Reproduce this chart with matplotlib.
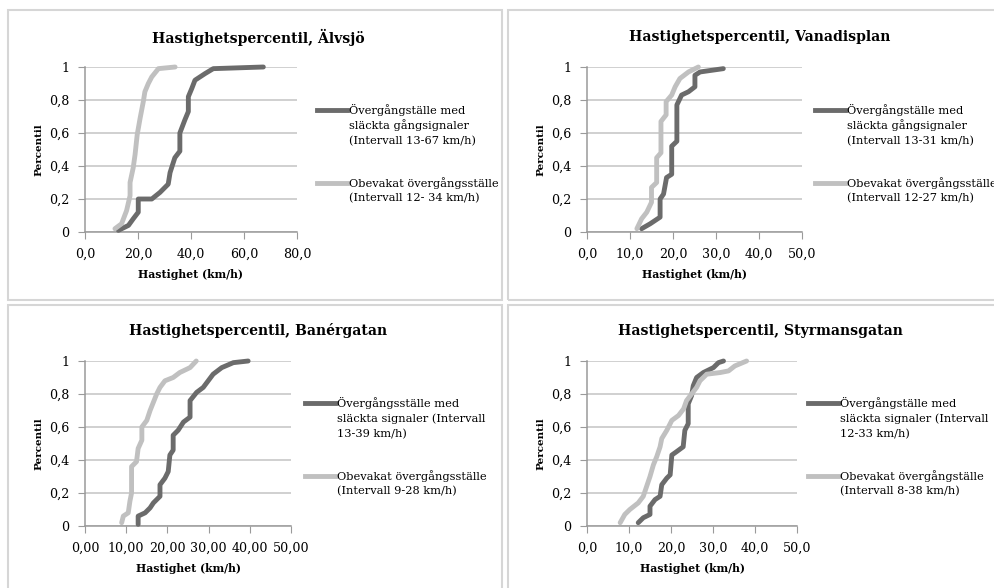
import numpy as np
import matplotlib.pyplot as plt
from matplotlib.lines import Line2D
from matplotlib.patches import Rectangle

plt.rcParams['font.family'] = ['DejaVu Serif']

W, H = 995, 588

# --- data (speed km/h, percentile) ---
alvsjo_dark_v = [12.6, 16.4, 18.2, 20.1, 20.1, 25.2, 28.3, 31.4, 32.1, 33.9, 35.8, 35.8, 37.7, 39.0, 39.0, 40.3, 41.5, 45.3, 48.4, 67.3]
alvsjo_dark_p = [0.01, 0.04, 0.08, 0.12, 0.20, 0.20, 0.24, 0.29, 0.36, 0.45, 0.49, 0.60, 0.68, 0.73, 0.82, 0.87, 0.92, 0.96, 0.99, 1.00]
alvsjo_light_v = [11.3, 13.8, 15.7, 17.0, 17.0, 18.2, 18.9, 19.7, 20.8, 22.0, 22.6, 23.9, 25.2, 27.7, 34.0]
alvsjo_light_p = [0.02, 0.05, 0.13, 0.22, 0.30, 0.39, 0.47, 0.59, 0.69, 0.79, 0.85, 0.90, 0.94, 0.99, 1.00]

vanadis_dark_v = [12.7, 14.7, 17.0, 17.0, 17.8, 18.5, 19.7, 19.7, 20.9, 20.9, 22.0, 23.6, 25.1, 25.1, 26.3, 31.7]
vanadis_dark_p = [0.02, 0.05, 0.09, 0.20, 0.23, 0.33, 0.35, 0.52, 0.55, 0.77, 0.83, 0.85, 0.88, 0.95, 0.97, 0.99]
vanadis_light_v = [11.6, 12.7, 13.9, 15.0, 15.0, 16.2, 16.2, 17.2, 17.2, 18.4, 18.4, 19.7, 20.5, 21.6, 23.6, 25.9]
vanadis_light_p = [0.02, 0.08, 0.12, 0.18, 0.27, 0.30, 0.45, 0.48, 0.67, 0.71, 0.79, 0.83, 0.88, 0.93, 0.97, 1.00]

baner_dark_v = [12.9, 12.9, 14.6, 15.8, 16.6, 18.2, 18.2, 19.4, 20.2, 20.6, 21.4, 21.4, 22.6, 23.9, 25.5, 25.5, 27.1, 28.7, 29.9, 31.1, 33.2, 36.0, 39.6]
baner_dark_p = [0.01, 0.06, 0.08, 0.11, 0.14, 0.18, 0.25, 0.29, 0.33, 0.43, 0.46, 0.55, 0.58, 0.63, 0.66, 0.76, 0.81, 0.84, 0.88, 0.92, 0.96, 0.99, 1.00]
baner_light_v = [8.9, 9.3, 10.5, 10.9, 11.3, 11.3, 12.5, 12.9, 13.8, 13.8, 15.0, 15.8, 16.6, 17.4, 18.2, 19.4, 21.4, 23.0, 25.5, 27.0]
baner_light_p = [0.02, 0.06, 0.08, 0.15, 0.20, 0.36, 0.39, 0.47, 0.52, 0.60, 0.64, 0.70, 0.75, 0.80, 0.84, 0.88, 0.90, 0.93, 0.96, 1.00]

styr_dark_v = [12.2, 13.4, 15.0, 15.0, 16.2, 17.4, 17.8, 19.0, 19.8, 20.2, 21.3, 22.9, 23.3, 24.1, 24.1, 24.9, 25.3, 26.1, 27.7, 30.1, 31.3, 32.5]
styr_dark_p = [0.02, 0.05, 0.07, 0.12, 0.16, 0.18, 0.25, 0.29, 0.31, 0.43, 0.45, 0.48, 0.58, 0.62, 0.74, 0.79, 0.85, 0.90, 0.93, 0.96, 0.99, 1.00]
styr_light_v = [7.9, 9.0, 10.2, 12.2, 13.4, 14.2, 15.0, 15.8, 16.6, 17.4, 17.8, 19.0, 20.2, 21.8, 23.0, 23.7, 24.9, 26.1, 26.9, 28.5, 31.7, 33.7, 35.2, 38.0]
styr_light_p = [0.02, 0.07, 0.10, 0.14, 0.18, 0.24, 0.30, 0.37, 0.42, 0.48, 0.53, 0.58, 0.64, 0.67, 0.71, 0.76, 0.80, 0.84, 0.88, 0.92, 0.93, 0.94, 0.97, 1.00]

titles = ['Hastighetspercentil, Älvsjö', 'Hastighetspercentil, Vanadisplan',
          'Hastighetspercentil, Banérgatan', 'Hastighetspercentil, Styrmansgatan']
dark_labels = [['Övergångställe med', 'släckta gångsignaler', '(Intervall 13-67 km/h)'],
               ['Övergångställe med', 'släckta gångsignaler', '(Intervall 13-31 km/h)'],
               ['Övergångsställe med', 'släckta signaler (Intervall', '13-39 km/h)'],
               ['Övergångställe med', 'släckta signaler (Intervall', '12-33 km/h)']]
light_labels = [['Obevakat övergångsställe', '(Intervall 12- 34 km/h)'],
                ['Obevakat övergångsställe', '(Intervall 12-27 km/h)'],
                ['Obevakat övergångsställe', '(Intervall 9-28 km/h)'],
                ['Obevakat övergångställe', '(Intervall 8-38 km/h)']]
xticks = [[0, 20, 40, 60, 80], [0, 10, 20, 30, 40, 50], [0, 10, 20, 30, 40, 50], [0, 10, 20, 30, 40, 50]]
xticklabels = [['0,0', '20,0', '40,0', '60,0', '80,0'],
               ['0,0', '10,0', '20,0', '30,0', '40,0', '50,0'],
               ['0,00', '10,00', '20,00', '30,00', '40,00', '50,00'],
               ['0,0', '10,0', '20,0', '30,0', '40,0', '50,0']]
yticks = [0, 0.2, 0.4, 0.6, 0.8, 1]
yticklabels = ['0', '0,2', '0,4', '0,6', '0,8', '1']

dark_v = [alvsjo_dark_v, vanadis_dark_v, baner_dark_v, styr_dark_v]
dark_p = [alvsjo_dark_p, vanadis_dark_p, baner_dark_p, styr_dark_p]
light_v = [alvsjo_light_v, vanadis_light_v, baner_light_v, styr_light_v]
light_p = [alvsjo_light_p, vanadis_light_p, baner_light_p, styr_light_p]

DARK = '#6b6b6b'
LIGHT = '#c0c0c0'
GRID = '#c4c4c4'

# layout in pixels: axes box (left, top, right, bottom), title x/y, legend line x
axes_px = [(85, 67, 297, 232), (587, 67, 802, 232), (85, 361, 291, 526), (587, 361, 797, 526)]
title_px = [(258, 37), (760, 37), (258, 331), (760, 331)]
legend_x = [317, 815, 305, 808]
legend_y = [(110, 183), (110, 183), (403, 476), (403, 476)]
frames = [(8, 10, 502, 300), (508, 10, 1000, 300), (8, 305, 502, 600), (508, 305, 1000, 600)]


def fx(px):
    return px / W


def fy(py):
    return 1 - py / H


fig = plt.figure(figsize=(W / 100, H / 100), dpi=100)

for x0, y0, x1, y1 in frames:
    fig.add_artist(Rectangle((fx(x0), fy(y1)), fx(x1 - x0), (y1 - y0) / H,
                             transform=fig.transFigure, fill=False,
                             edgecolor='#d6d6d6', linewidth=1.5))

for i in range(4):
    l, t, r, b = axes_px[i]
    ax = fig.add_axes([fx(l), fy(b), fx(r - l), (b - t) / H])
    ax.plot(dark_v[i], dark_p[i], color=DARK, lw=3.5, solid_joinstyle='round',
            solid_capstyle='round', clip_on=False, zorder=3)
    ax.plot(light_v[i], light_p[i], color=LIGHT, lw=3.5, solid_joinstyle='round',
            solid_capstyle='round', clip_on=False, zorder=3)
    ax.set_xlim(0, xticks[i][-1])
    ax.set_ylim(0, 1)
    ax.set_xticks(xticks[i])
    ax.set_xticklabels(xticklabels[i])
    ax.set_yticks(yticks)
    ax.set_yticklabels(yticklabels)
    ax.grid(axis='y', color=GRID, lw=1.1)
    ax.set_axisbelow(True)
    for s in ['top', 'right']:
        ax.spines[s].set_visible(False)
    for s in ['left', 'bottom']:
        ax.spines[s].set_color('#9a9a9a')
        ax.spines[s].set_linewidth(1.1)
    ax.tick_params(direction='out', length=5, color='#9a9a9a', labelsize=9.1, pad=6)
    ax.set_xlabel('Hastighet (km/h)', fontsize=7.8, fontweight='bold')
    ax.xaxis.set_label_coords(0.5, -43 / (b - t))
    ax.xaxis.label.set_va('center')
    ax.set_ylabel('Percentil', fontsize=7.5, fontweight='bold')
    ax.yaxis.set_label_coords(-46 / (r - l), 0.5)
    ax.yaxis.label.set_va('center')

    tx, ty = title_px[i]
    fig.text(fx(tx), fy(ty), titles[i], ha='center', va='center',
             fontsize=10.1, fontweight='bold')

    # legend
    lx = legend_x[i]
    for color, lines, ly in [(DARK, dark_labels[i], legend_y[i][0]),
                             (LIGHT, light_labels[i], legend_y[i][1])]:
        fig.add_artist(Line2D([fx(lx), fx(lx + 30)], [fy(ly), fy(ly)],
                              transform=fig.transFigure, color=color, lw=3.5))
        for k, txt in enumerate(lines):
            fig.text(fx(lx + 32), fy(ly + k * 15.5), txt, ha='left', va='center',
                     fontsize=8.2)

fig.savefig('out.png', dpi=100)
